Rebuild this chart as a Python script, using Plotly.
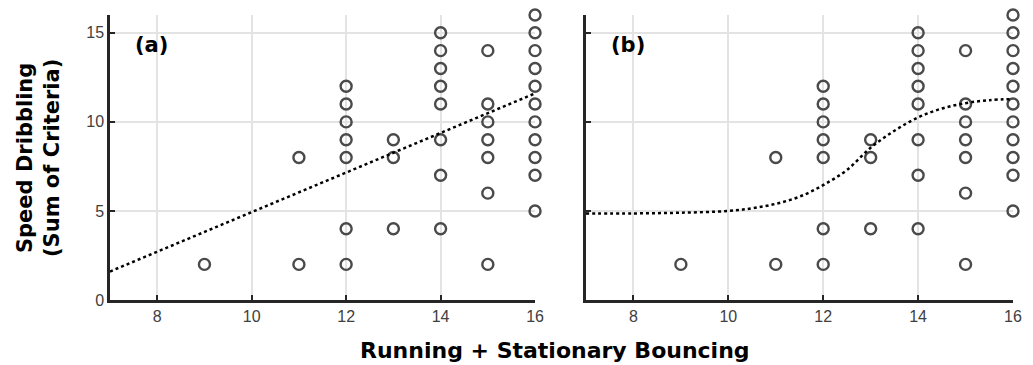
import plotly.graph_objects as go

# ---- data ----
running_bouncing = [9, 11, 11,
                    12, 12, 12, 12, 12, 12, 12,
                    13, 13, 13,
                    14, 14, 14, 14, 14, 14, 14, 14,
                    15, 15, 15, 15, 15, 15, 15,
                    16, 16, 16, 16, 16, 16, 16, 16, 16, 16, 16]
speed_dribbling = [2, 2, 8,
                   2, 4, 8, 9, 10, 11, 12,
                   4, 8, 9,
                   4, 7, 9, 11, 12, 13, 14, 15,
                   2, 6, 8, 9, 10, 11, 14,
                   5, 7, 8, 9, 10, 11, 12, 13, 14, 15, 16]

# (a) linear fit, endpoints
linear_x = [7, 16]
linear_y = [1.6, 11.6]

# (b) sigmoid-like fit
curve_x = [7, 8, 9, 10, 10.5, 11, 11.5, 12, 12.5, 13, 13.5, 14, 14.5, 15, 15.5, 16]
curve_y = [4.85, 4.86, 4.9, 5.0, 5.15, 5.4, 5.8, 6.45, 7.3, 8.55, 9.5, 10.25, 10.75, 11.05, 11.22, 11.28]

panel_labels = ["(a)", "(b)"]
x_ticks = [8, 10, 12, 14, 16]
y_ticks = [0, 5, 10, 15]

MARK = "#4a4a4a"
AXC = "#262626"
GRID = "#e3e3e3"

fig = go.Figure()

for i, (xa, ya) in enumerate([("x", "y"), ("x2", "y2")]):
    fig.add_trace(go.Scatter(
        x=running_bouncing, y=speed_dribbling, mode="markers",
        marker=dict(symbol="circle-open", size=11, color=MARK, line=dict(width=2.4, color=MARK)),
        xaxis=xa, yaxis=ya, cliponaxis=False, showlegend=False))

fig.add_trace(go.Scatter(x=linear_x, y=linear_y, mode="lines",
                         line=dict(color="black", width=2.5, dash="dot"),
                         xaxis="x", yaxis="y", showlegend=False))
fig.add_trace(go.Scatter(x=curve_x, y=curve_y, mode="lines",
                         line=dict(color="black", width=2.5, dash="dot", shape="spline", smoothing=1.0),
                         xaxis="x2", yaxis="y2", showlegend=False))

tick_font = dict(family="Liberation Sans, Arial, sans-serif", size=16, color="#404040")
common_x = dict(range=[7, 16], tickvals=x_ticks, ticks="inside", ticklen=5, tickwidth=2,
                tickcolor=AXC, showline=True, linecolor=AXC, linewidth=2.5,
                showgrid=True, gridcolor=GRID, gridwidth=2, zeroline=False,
                tickfont=tick_font, fixedrange=True)
common_y = dict(range=[0, 16], tickvals=y_ticks, ticks="inside", ticklen=5, tickwidth=2,
                tickcolor=AXC, showline=True, linecolor=AXC, linewidth=2.5,
                showgrid=True, gridcolor=GRID, gridwidth=2, zeroline=False,
                tickfont=tick_font, fixedrange=True)

W, H = 1033, 365
l, r, t, b = 110, 20, 15, 65
pw, ph = W - l - r, H - t - b

fig.update_layout(
    width=W, height=H,
    margin=dict(l=l, r=r, t=t, b=b),
    plot_bgcolor="white", paper_bgcolor="white",
    xaxis=dict(domain=[0, 0.4707], anchor="y", **common_x),
    yaxis=dict(domain=[0, 1], anchor="x", **common_y),
    xaxis2=dict(domain=[0.5271, 1.0], anchor="y2", **common_x),
    yaxis2=dict(domain=[0, 1], anchor="x2", showticklabels=False, **common_y),
)

bold = dict(family="DejaVu Sans, Verdana, sans-serif", size=21, color="black")
for i, lab in enumerate(panel_labels):
    sfx = "" if i == 0 else "2"
    fig.add_annotation(text="<b>%s</b>" % lab, x=7.48, y=14.3, xref="x" + sfx, yref="y" + sfx,
                       xanchor="left", yanchor="middle", showarrow=False, font=bold)

fig.add_annotation(text="<b>Speed Dribbling<br>(Sum of Criteria)</b>", textangle=-90,
                   x=(38 - l) / pw, y=(H - b - 158) / ph, xref="paper", yref="paper",
                   xanchor="center", yanchor="middle", showarrow=False, font=bold)
fig.add_annotation(text="<b>Running + Stationary Bouncing</b>",
                   x=(555 - l) / pw, y=(H - b - 350) / ph, xref="paper", yref="paper",
                   xanchor="center", yanchor="middle", showarrow=False,
                   font=dict(family="DejaVu Sans, Verdana, sans-serif", size=22, color="black"))

fig.write_html("out.html", config={"displayModeBar": False},
               post_script="document.body.style.margin='0';document.body.style.overflow='hidden';")
